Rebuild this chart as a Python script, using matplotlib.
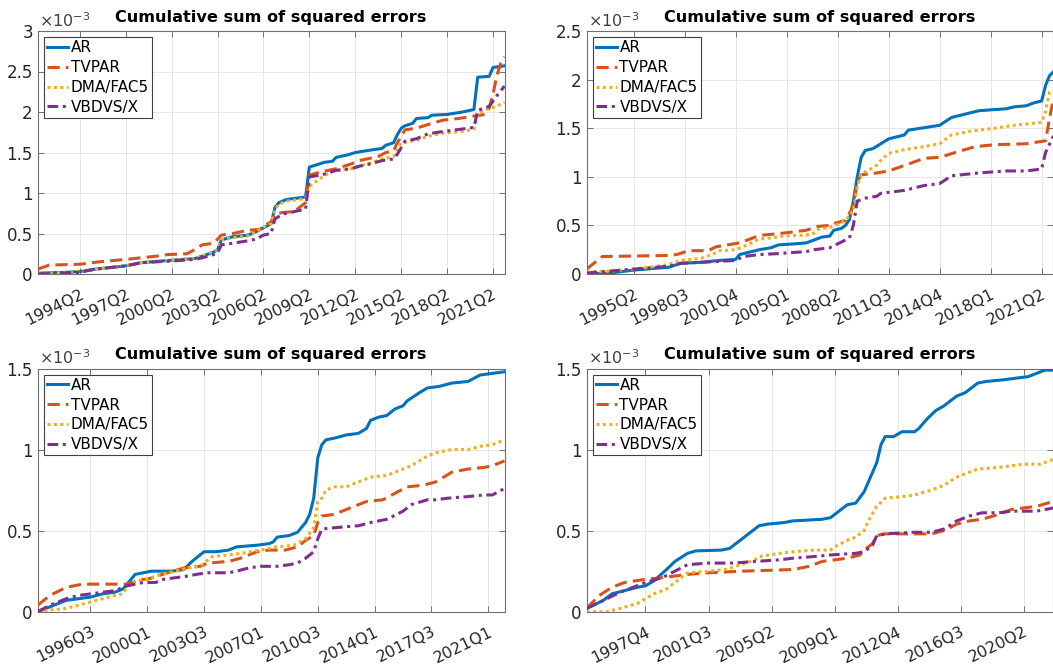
# Cumulative sum of squared forecast errors, four model comparisons (2x2 grid)
import numpy as np
import matplotlib.pyplot as plt
from matplotlib.transforms import ScaledTranslation


def qnum(s):
    # "1994Q2" -> running quarter number
    return int(s[:4]) * 4 + int(s[5]) - 1


# values are in units of 1e-3
# ---- panel 1 (top left) ----
p1_range = ("1991Q3", "2022Q1")
p1_ticks = ["1994Q2", "1997Q2", "2000Q2", "2003Q2", "2006Q2", "2009Q2",
            "2012Q2", "2015Q2", "2018Q2", "2021Q2"]
p1_ymax = 3.0
p1_ar = [("1991Q3", 0.01), ("1993Q2", 0.02), ("1994Q2", 0.03), ("1995Q2", 0.06),
         ("1997Q2", 0.10), ("1998Q2", 0.14), ("2000Q2", 0.17), ("2001Q4", 0.19),
         ("2002Q2", 0.22), ("2003Q1", 0.27), ("2003Q2", 0.30), ("2003Q3", 0.42),
         ("2004Q2", 0.46), ("2005Q2", 0.48), ("2005Q4", 0.52), ("2006Q2", 0.57),
         ("2006Q4", 0.62), ("2007Q1", 0.82), ("2007Q2", 0.88), ("2007Q4", 0.92),
         ("2009Q1", 0.95), ("2009Q2", 1.32), ("2009Q4", 1.35), ("2010Q2", 1.38),
         ("2010Q4", 1.39), ("2011Q1", 1.44), ("2011Q4", 1.47), ("2012Q2", 1.50),
         ("2013Q2", 1.53), ("2014Q1", 1.55), ("2014Q2", 1.59), ("2014Q4", 1.62),
         ("2015Q1", 1.72), ("2015Q2", 1.80), ("2015Q3", 1.83), ("2016Q1", 1.86),
         ("2016Q2", 1.92), ("2017Q1", 1.93), ("2017Q2", 1.96), ("2018Q2", 1.97),
         ("2019Q2", 2.00), ("2019Q4", 2.02), ("2020Q1", 2.03), ("2020Q2", 2.43),
         ("2021Q1", 2.44), ("2021Q2", 2.55), ("2022Q1", 2.57)]
p1_tvpar = [("1991Q3", 0.06), ("1992Q2", 0.11), ("1994Q2", 0.12), ("1995Q3", 0.15),
            ("1997Q2", 0.18), ("1998Q2", 0.20), ("1999Q2", 0.22), ("2000Q1", 0.24),
            ("2001Q2", 0.25), ("2001Q4", 0.30), ("2002Q2", 0.36), ("2003Q1", 0.38),
            ("2003Q3", 0.48), ("2004Q2", 0.50), ("2005Q2", 0.54), ("2006Q1", 0.55),
            ("2006Q3", 0.62), ("2006Q4", 0.64), ("2007Q1", 0.74), ("2007Q3", 0.76),
            ("2008Q2", 0.77), ("2009Q1", 0.88), ("2009Q2", 1.22), ("2010Q1", 1.26),
            ("2011Q1", 1.30), ("2012Q1", 1.36), ("2012Q3", 1.40), ("2013Q2", 1.43),
            ("2013Q4", 1.45), ("2014Q2", 1.50), ("2014Q4", 1.52), ("2015Q1", 1.62),
            ("2015Q3", 1.78), ("2016Q2", 1.80), ("2017Q2", 1.86), ("2018Q1", 1.90),
            ("2019Q1", 1.92), ("2020Q1", 1.95), ("2020Q4", 1.97), ("2021Q1", 2.05),
            ("2021Q2", 2.22), ("2021Q3", 2.45), ("2021Q4", 2.60), ("2022Q1", 2.68)]
p1_dma = [("1991Q3", 0.00), ("1994Q2", 0.03), ("1995Q2", 0.06), ("1997Q2", 0.10),
          ("1998Q2", 0.14), ("2000Q2", 0.17), ("2001Q4", 0.19), ("2002Q2", 0.22),
          ("2003Q1", 0.28), ("2003Q2", 0.30), ("2003Q3", 0.42), ("2004Q2", 0.45),
          ("2005Q2", 0.47), ("2005Q4", 0.52), ("2006Q2", 0.58), ("2006Q4", 0.62),
          ("2007Q1", 0.80), ("2007Q2", 0.86), ("2007Q4", 0.90), ("2009Q1", 0.93),
          ("2009Q2", 1.08), ("2009Q4", 1.15), ("2010Q2", 1.22), ("2011Q1", 1.28),
          ("2012Q1", 1.30), ("2012Q3", 1.33), ("2013Q2", 1.37), ("2014Q1", 1.42),
          ("2014Q4", 1.45), ("2015Q2", 1.62), ("2016Q2", 1.65), ("2017Q1", 1.70),
          ("2018Q1", 1.74), ("2019Q2", 1.76), ("2020Q1", 1.79), ("2020Q2", 1.98),
          ("2020Q4", 2.03), ("2021Q3", 2.07), ("2022Q1", 2.12)]
p1_vbdvs = [("1991Q3", 0.00), ("1994Q2", 0.02), ("1995Q2", 0.06), ("1997Q2", 0.10),
            ("1998Q2", 0.14), ("2000Q2", 0.16), ("2001Q4", 0.18), ("2002Q2", 0.20),
            ("2003Q1", 0.24), ("2003Q2", 0.26), ("2003Q3", 0.36), ("2004Q2", 0.38),
            ("2005Q2", 0.41), ("2005Q4", 0.43), ("2006Q2", 0.48), ("2006Q4", 0.50),
            ("2007Q1", 0.68), ("2007Q3", 0.74), ("2008Q3", 0.78), ("2009Q1", 0.80),
            ("2009Q2", 1.20), ("2010Q1", 1.22), ("2011Q1", 1.28), ("2012Q1", 1.30),
            ("2012Q3", 1.33), ("2013Q2", 1.36), ("2014Q1", 1.40), ("2014Q4", 1.42),
            ("2015Q1", 1.48), ("2015Q3", 1.64), ("2016Q2", 1.67), ("2017Q1", 1.73),
            ("2018Q1", 1.76), ("2019Q2", 1.79), ("2020Q1", 1.81), ("2020Q2", 2.02),
            ("2021Q1", 2.07), ("2021Q3", 2.20), ("2022Q1", 2.32)]

# ---- panel 2 (top right) ----
p2_range = ("1992Q2", "2022Q1")
p2_ticks = ["1995Q2", "1998Q3", "2001Q4", "2005Q1", "2008Q2", "2011Q3",
            "2014Q4", "2018Q1", "2021Q2"]
p2_ymax = 2.5
p2_ar = [("1992Q2", 0.00), ("1993Q4", 0.01), ("1995Q2", 0.04), ("1996Q4", 0.06),
         ("1997Q3", 0.07), ("1998Q2", 0.11), ("1999Q3", 0.12), ("2000Q4", 0.14),
         ("2001Q4", 0.15), ("2002Q1", 0.20), ("2003Q2", 0.25), ("2004Q1", 0.27),
         ("2004Q3", 0.30), ("2005Q3", 0.31), ("2006Q2", 0.32), ("2006Q4", 0.35),
         ("2007Q2", 0.38), ("2007Q4", 0.39), ("2008Q1", 0.45), ("2008Q3", 0.47),
         ("2008Q4", 0.50), ("2009Q1", 0.56), ("2009Q2", 0.75), ("2009Q3", 1.00),
         ("2009Q4", 1.20), ("2010Q1", 1.27), ("2010Q3", 1.29), ("2011Q1", 1.34),
         ("2011Q3", 1.39), ("2012Q3", 1.43), ("2012Q4", 1.48), ("2014Q4", 1.53),
         ("2015Q3", 1.61), ("2016Q3", 1.65), ("2017Q2", 1.68), ("2019Q1", 1.70),
         ("2019Q3", 1.72), ("2020Q2", 1.73), ("2020Q4", 1.76), ("2021Q2", 1.78),
         ("2021Q3", 1.94), ("2021Q4", 2.04), ("2022Q1", 2.08)]
p2_tvpar = [("1992Q2", 0.05), ("1993Q2", 0.18), ("1997Q2", 0.19), ("1998Q1", 0.20),
            ("1998Q4", 0.24), ("2000Q1", 0.24), ("2000Q3", 0.28), ("2001Q2", 0.30),
            ("2002Q1", 0.32), ("2003Q1", 0.38), ("2003Q3", 0.40), ("2004Q4", 0.42),
            ("2006Q2", 0.45), ("2007Q1", 0.49), ("2007Q4", 0.50), ("2008Q1", 0.52),
            ("2008Q4", 0.55), ("2009Q2", 0.70), ("2009Q3", 0.95), ("2009Q4", 1.02),
            ("2010Q4", 1.04), ("2011Q3", 1.06), ("2012Q4", 1.13), ("2013Q4", 1.19),
            ("2014Q4", 1.20), ("2015Q4", 1.25), ("2017Q1", 1.31), ("2018Q2", 1.33),
            ("2020Q2", 1.34), ("2021Q3", 1.37), ("2021Q4", 1.60), ("2022Q1", 1.80)]
p2_dma = [("1992Q2", 0.02), ("1993Q4", 0.03), ("1995Q2", 0.05), ("1996Q4", 0.08),
          ("1997Q3", 0.10), ("1998Q2", 0.14), ("1999Q3", 0.16), ("2000Q2", 0.20),
          ("2000Q4", 0.24), ("2001Q4", 0.25), ("2002Q3", 0.30), ("2003Q2", 0.36),
          ("2004Q1", 0.37), ("2004Q4", 0.39), ("2006Q2", 0.40), ("2006Q4", 0.42),
          ("2007Q1", 0.46), ("2007Q4", 0.48), ("2008Q2", 0.51), ("2008Q4", 0.55),
          ("2009Q2", 0.65), ("2009Q3", 0.90), ("2009Q4", 1.03), ("2010Q2", 1.07),
          ("2010Q4", 1.12), ("2011Q1", 1.17), ("2011Q3", 1.24), ("2012Q3", 1.28),
          ("2013Q4", 1.31), ("2014Q4", 1.34), ("2015Q3", 1.43), ("2016Q4", 1.47),
          ("2018Q2", 1.50), ("2019Q3", 1.53), ("2021Q2", 1.56), ("2021Q3", 1.67),
          ("2021Q4", 1.87), ("2022Q1", 1.89)]
p2_vbdvs = [("1992Q2", 0.01), ("1993Q4", 0.03), ("1995Q2", 0.05), ("1996Q4", 0.07),
            ("1997Q3", 0.08), ("1998Q2", 0.11), ("1999Q3", 0.12), ("2000Q4", 0.13),
            ("2001Q4", 0.14), ("2002Q2", 0.18), ("2003Q2", 0.20), ("2004Q3", 0.21),
            ("2005Q2", 0.22), ("2006Q2", 0.23), ("2006Q4", 0.25), ("2007Q4", 0.27),
            ("2008Q1", 0.29), ("2008Q3", 0.33), ("2009Q1", 0.37), ("2009Q2", 0.50),
            ("2009Q3", 0.75), ("2010Q1", 0.78), ("2010Q4", 0.80), ("2011Q1", 0.83),
            ("2011Q3", 0.84), ("2012Q3", 0.86), ("2013Q4", 0.91), ("2014Q4", 0.93),
            ("2015Q3", 1.01), ("2017Q2", 1.04), ("2019Q1", 1.06), ("2020Q2", 1.06),
            ("2020Q4", 1.07), ("2021Q2", 1.08), ("2021Q3", 1.25), ("2022Q1", 1.42)]

# ---- panel 3 (bottom left) ----
p3_range = ("1993Q2", "2022Q1")
p3_ticks = ["1996Q3", "2000Q1", "2003Q3", "2007Q1", "2010Q3", "2014Q1",
            "2017Q3", "2021Q1"]
p3_ymax = 1.5
p3_ar = [("1993Q2", 0.00), ("1994Q1", 0.03), ("1995Q1", 0.07), ("1995Q4", 0.08),
         ("1996Q3", 0.09), ("1997Q2", 0.11), ("1998Q1", 0.12), ("1998Q3", 0.14),
         ("1998Q4", 0.17), ("1999Q2", 0.23), ("1999Q4", 0.24), ("2000Q2", 0.25),
         ("2001Q3", 0.25), ("2002Q2", 0.26), ("2002Q4", 0.31), ("2003Q3", 0.37),
         ("2004Q2", 0.37), ("2005Q1", 0.38), ("2005Q3", 0.40), ("2006Q4", 0.41),
         ("2007Q3", 0.42), ("2007Q4", 0.43), ("2008Q1", 0.46), ("2008Q4", 0.47),
         ("2009Q2", 0.49), ("2009Q4", 0.55), ("2010Q1", 0.60), ("2010Q2", 0.70),
         ("2010Q3", 0.95), ("2010Q4", 1.03), ("2011Q1", 1.06), ("2011Q3", 1.07),
         ("2012Q2", 1.09), ("2013Q1", 1.10), ("2013Q3", 1.13), ("2013Q4", 1.18),
         ("2014Q2", 1.20), ("2014Q4", 1.21), ("2015Q2", 1.25), ("2015Q4", 1.27),
         ("2016Q1", 1.30), ("2016Q4", 1.35), ("2017Q2", 1.38), ("2018Q1", 1.39),
         ("2018Q4", 1.41), ("2019Q4", 1.42), ("2020Q3", 1.46), ("2021Q2", 1.47),
         ("2022Q1", 1.48)]
p3_tvpar = [("1993Q2", 0.04), ("1994Q1", 0.10), ("1995Q1", 0.15), ("1996Q1", 0.17),
            ("1998Q4", 0.17), ("1999Q4", 0.20), ("2000Q1", 0.20), ("2001Q2", 0.24),
            ("2002Q2", 0.27), ("2003Q2", 0.28), ("2003Q4", 0.30), ("2005Q1", 0.31),
            ("2005Q4", 0.33), ("2006Q4", 0.37), ("2007Q3", 0.38), ("2008Q3", 0.38),
            ("2009Q2", 0.40), ("2009Q4", 0.44), ("2010Q2", 0.47), ("2010Q3", 0.55),
            ("2010Q4", 0.59), ("2011Q3", 0.60), ("2012Q2", 0.63), ("2013Q3", 0.68),
            ("2014Q3", 0.69), ("2015Q2", 0.73), ("2016Q1", 0.77), ("2017Q1", 0.78),
            ("2017Q4", 0.80), ("2018Q4", 0.86), ("2019Q4", 0.88), ("2020Q4", 0.89),
            ("2021Q2", 0.90), ("2022Q1", 0.93)]
p3_dma = [("1993Q2", 0.00), ("1994Q1", 0.01), ("1995Q1", 0.02), ("1996Q3", 0.06),
          ("1997Q2", 0.08), ("1998Q1", 0.10), ("1998Q3", 0.11), ("1998Q4", 0.15),
          ("1999Q2", 0.19), ("2000Q1", 0.20), ("2000Q3", 0.22), ("2001Q2", 0.24),
          ("2001Q4", 0.25), ("2002Q3", 0.27), ("2003Q2", 0.28), ("2003Q3", 0.30),
          ("2004Q1", 0.34), ("2005Q1", 0.35), ("2005Q4", 0.36), ("2007Q1", 0.38),
          ("2008Q1", 0.40), ("2009Q1", 0.41), ("2009Q4", 0.45), ("2010Q2", 0.52),
          ("2010Q3", 0.68), ("2010Q4", 0.70), ("2011Q1", 0.75), ("2011Q3", 0.77),
          ("2012Q2", 0.77), ("2013Q1", 0.80), ("2013Q4", 0.83), ("2014Q4", 0.84),
          ("2015Q4", 0.88), ("2016Q2", 0.90), ("2017Q2", 0.96), ("2017Q4", 0.98),
          ("2018Q2", 0.99), ("2018Q4", 1.00), ("2019Q4", 1.00), ("2020Q3", 1.02),
          ("2021Q2", 1.03), ("2022Q1", 1.06)]
p3_vbdvs = [("1993Q2", 0.00), ("1994Q1", 0.04), ("1995Q1", 0.08), ("1995Q4", 0.10),
            ("1996Q3", 0.11), ("1997Q2", 0.12), ("1998Q1", 0.13), ("1998Q4", 0.16),
            ("1999Q4", 0.18), ("2000Q3", 0.18), ("2001Q1", 0.20), ("2001Q4", 0.21),
            ("2002Q3", 0.22), ("2003Q1", 0.23), ("2003Q4", 0.24), ("2005Q1", 0.24),
            ("2005Q3", 0.25), ("2006Q2", 0.27), ("2007Q1", 0.28), ("2008Q1", 0.28),
            ("2008Q4", 0.29), ("2009Q2", 0.30), ("2009Q4", 0.33), ("2010Q2", 0.37),
            ("2010Q3", 0.45), ("2010Q4", 0.51), ("2011Q4", 0.52), ("2013Q1", 0.53),
            ("2013Q4", 0.55), ("2014Q4", 0.57), ("2015Q4", 0.62), ("2016Q2", 0.66),
            ("2017Q2", 0.69), ("2017Q4", 0.69), ("2018Q3", 0.70), ("2019Q4", 0.71),
            ("2020Q4", 0.72), ("2021Q2", 0.72), ("2022Q1", 0.76)]

# ---- panel 4 (bottom right) ----
p4_range = ("1994Q2", "2022Q1")
p4_ticks = ["1997Q4", "2001Q3", "2005Q2", "2009Q1", "2012Q4", "2016Q3", "2020Q2"]
p4_ymax = 1.5
p4_ar = [("1994Q2", 0.02), ("1995Q2", 0.07), ("1995Q4", 0.11), ("1996Q3", 0.13),
         ("1997Q2", 0.15), ("1997Q4", 0.16), ("1998Q2", 0.19), ("1999Q1", 0.26),
         ("1999Q3", 0.31), ("2000Q2", 0.36), ("2000Q4", 0.375), ("2002Q2", 0.38),
         ("2002Q4", 0.39), ("2003Q1", 0.41), ("2003Q4", 0.47), ("2004Q3", 0.53),
         ("2005Q1", 0.54), ("2006Q1", 0.55), ("2006Q3", 0.56), ("2008Q2", 0.57),
         ("2008Q4", 0.58), ("2009Q2", 0.62), ("2009Q4", 0.66), ("2010Q2", 0.67),
         ("2010Q4", 0.74), ("2011Q1", 0.80), ("2011Q3", 0.92), ("2011Q4", 1.03),
         ("2012Q1", 1.08), ("2012Q3", 1.08), ("2013Q1", 1.11), ("2013Q4", 1.11),
         ("2014Q1", 1.13), ("2014Q3", 1.19), ("2015Q1", 1.24), ("2015Q3", 1.27),
         ("2016Q2", 1.33), ("2016Q4", 1.35), ("2017Q3", 1.41), ("2018Q1", 1.42),
         ("2019Q1", 1.43), ("2019Q4", 1.44), ("2020Q3", 1.45), ("2021Q1", 1.47),
         ("2021Q3", 1.49), ("2022Q1", 1.49)]
p4_tvpar = [("1994Q2", 0.02), ("1995Q1", 0.10), ("1995Q4", 0.15), ("1996Q3", 0.18),
            ("1997Q4", 0.20), ("1998Q4", 0.21), ("1999Q3", 0.22), ("2000Q2", 0.23),
            ("2001Q3", 0.24), ("2003Q3", 0.25), ("2006Q3", 0.26), ("2007Q3", 0.28),
            ("2008Q2", 0.31), ("2009Q1", 0.32), ("2009Q4", 0.33), ("2010Q3", 0.35),
            ("2010Q4", 0.38), ("2011Q2", 0.42), ("2011Q3", 0.47), ("2012Q1", 0.48),
            ("2014Q4", 0.48), ("2015Q3", 0.50), ("2016Q2", 0.54), ("2017Q1", 0.56),
            ("2017Q4", 0.57), ("2018Q4", 0.60), ("2019Q3", 0.63), ("2020Q2", 0.64),
            ("2021Q1", 0.65), ("2022Q1", 0.68)]
p4_dma = [("1994Q2", 0.00), ("1995Q3", 0.00), ("1996Q2", 0.02), ("1997Q2", 0.05),
          ("1997Q4", 0.08), ("1998Q2", 0.11), ("1999Q1", 0.14), ("1999Q4", 0.20),
          ("2000Q2", 0.24), ("2001Q3", 0.25), ("2002Q3", 0.26), ("2003Q4", 0.30),
          ("2004Q2", 0.32), ("2004Q3", 0.34), ("2005Q4", 0.36), ("2006Q3", 0.37),
          ("2007Q4", 0.38), ("2008Q4", 0.38), ("2009Q1", 0.40), ("2009Q4", 0.44),
          ("2010Q2", 0.46), ("2010Q4", 0.50), ("2011Q1", 0.56), ("2011Q3", 0.65),
          ("2012Q1", 0.70), ("2013Q1", 0.71), ("2013Q4", 0.72), ("2014Q4", 0.75),
          ("2015Q3", 0.78), ("2016Q2", 0.83), ("2017Q1", 0.86), ("2017Q3", 0.88),
          ("2018Q4", 0.89), ("2019Q3", 0.90), ("2020Q2", 0.91), ("2021Q2", 0.91),
          ("2022Q1", 0.94)]
p4_vbdvs = [("1994Q2", 0.02), ("1995Q2", 0.07), ("1996Q2", 0.12), ("1997Q1", 0.15),
            ("1997Q4", 0.18), ("1998Q4", 0.21), ("1999Q3", 0.25), ("2000Q2", 0.29),
            ("2001Q3", 0.30), ("2003Q1", 0.30), ("2004Q2", 0.31), ("2005Q4", 0.32),
            ("2006Q3", 0.33), ("2007Q4", 0.34), ("2008Q4", 0.35), ("2010Q2", 0.36),
            ("2010Q4", 0.37), ("2011Q2", 0.41), ("2011Q3", 0.47), ("2012Q1", 0.48),
            ("2013Q4", 0.49), ("2014Q4", 0.49), ("2015Q3", 0.51), ("2016Q2", 0.56),
            ("2017Q1", 0.59), ("2017Q4", 0.61), ("2018Q4", 0.61), ("2019Q3", 0.62),
            ("2021Q1", 0.62), ("2022Q1", 0.64)]

model_names = ["AR", "TVPAR", "DMA/FAC5", "VBDVS/X"]
colors = ["#0072BD", "#D95319", "#EDB120", "#7E2F8E"]
styles = ["-", (0, (4, 2)), (0, (1, 1.1)), (0, (3.5, 1.5, 1, 1.5))]

W, H = 1053, 668
fig = plt.figure(figsize=(W / 100, H / 100), dpi=100)

# axes boxes in pixels: left, top, width, height
boxes = [(37.7, 31, 466.8, 243), (586.6, 31, 466.8, 243),
         (37.7, 368.5, 466.8, 243.2), (586.6, 368.5, 466.8, 243.2)]
panels = [(p1_range, p1_ticks, p1_ymax, [p1_ar, p1_tvpar, p1_dma, p1_vbdvs]),
          (p2_range, p2_ticks, p2_ymax, [p2_ar, p2_tvpar, p2_dma, p2_vbdvs]),
          (p3_range, p3_ticks, p3_ymax, [p3_ar, p3_tvpar, p3_dma, p3_vbdvs]),
          (p4_range, p4_ticks, p4_ymax, [p4_ar, p4_tvpar, p4_dma, p4_vbdvs])]

frame_col = "#707070"
text_col = "#262626"
shift = ScaledTranslation(7 / 100, 0, fig.dpi_scale_trans)

for (x0, y0, w, h), (rng, ticks, ymax, series) in zip(boxes, panels):
    ax = fig.add_axes([x0 / W, 1 - (y0 + h) / H, w / W, h / H])
    for ser, name, c, ls in zip(series, model_names, colors, styles):
        xs = [qnum(s) for s, v in ser]
        ys = [v for s, v in ser]
        ax.plot(xs, ys, color=c, ls=ls, lw=2.2, label=name, zorder=3)

    ax.set_xlim(qnum(rng[0]), qnum(rng[1]))
    ax.set_ylim(0, ymax)
    yt = np.arange(0, ymax + 0.01, 0.5)
    ax.set_yticks(yt, [f"{v:g}" for v in yt])
    ax.set_xticks([qnum(t) for t in ticks], ticks, rotation=26,
                  ha="right", rotation_mode="anchor")
    for lab in ax.get_xticklabels():
        lab.set_transform(lab.get_transform() + shift)

    ax.grid(True, color="#e6e6e6", lw=0.7, zorder=0)
    ax.set_axisbelow(True)
    ax.tick_params(direction="in", length=4, width=0.7, color=frame_col,
                   labelcolor=text_col, labelsize=12, top=True, right=True)
    ax.tick_params(axis="x", pad=9, labelsize=11.5)
    for sp in ax.spines.values():
        sp.set_color(frame_col)
        sp.set_linewidth(0.8)

    ax.set_title("Cumulative sum of squared errors", fontsize=11.6,
                 fontweight="bold", pad=6.5)
    ax.text(0.003, 1.006, r"$\times10^{-3}$", transform=ax.transAxes,
            ha="left", va="bottom", fontsize=11.5, color="#404040")

    leg = ax.legend(loc="upper left", fontsize=11, handlelength=1.4,
                    handletextpad=0.15, borderpad=0.2, labelspacing=0.32,
                    borderaxespad=0.4, fancybox=False, framealpha=1)
    leg.get_frame().set_edgecolor("#404040")
    leg.get_frame().set_linewidth(0.8)

fig.savefig("out.png", dpi=100)
